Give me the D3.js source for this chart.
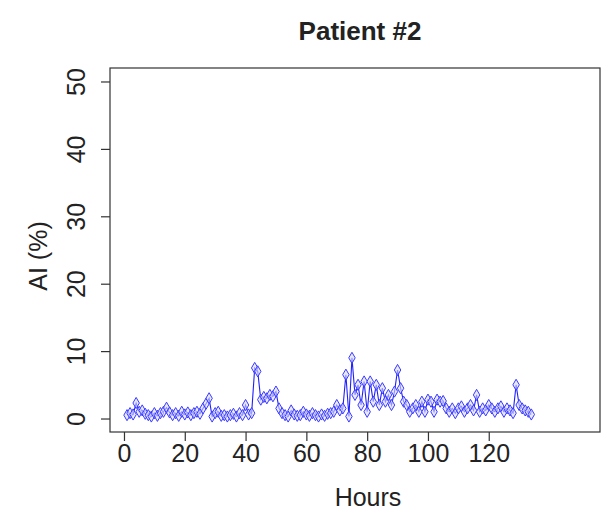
<!DOCTYPE html>
<html><head><meta charset="utf-8">
<script src="https://cdn.jsdelivr.net/npm/d3@7"></script>
<style>body{margin:0;background:#fff}svg{display:block}text{font-family:"Liberation Sans",Arial,sans-serif;fill:#222}</style>
</head><body><svg id="c" width="602" height="520"></svg>
<script>
const title = "Patient #2";
const xLabel = "Hours";
const yLabel = "AI (%)";
const xTicks = [0, 20, 40, 60, 80, 100, 120];
const yTicks = [0, 10, 20, 30, 40, 50];
const hours = d3.range(1, 135);
const values = [
 0.5,0.8,0.6,2.3,1.0,1.2,0.7,0.5,0.3,0.8,
 0.4,0.8,1.0,1.6,0.9,0.5,0.8,0.4,1.0,0.6,
 0.9,0.5,0.8,1.0,0.7,1.5,2.2,3.0,0.3,0.8,
 1.0,0.4,0.5,0.3,0.5,0.7,0.3,0.8,0.5,2.0,
 0.6,0.8,7.5,7.0,2.8,3.2,3.0,3.5,3.3,4.0,
 1.5,0.8,0.5,0.3,1.2,0.6,0.4,0.5,1.0,0.6,
 0.4,0.8,0.5,0.3,0.6,0.4,0.7,0.8,1.0,2.0,
 1.2,1.5,6.5,0.3,9.0,3.5,5.0,2.0,5.5,1.0,
 5.5,2.5,5.0,2.0,4.5,2.5,3.5,2.0,4.0,7.2,
 4.5,2.5,2.0,1.0,1.5,2.0,1.0,2.5,1.0,2.8,
 2.5,1.0,2.8,2.5,2.6,1.5,1.0,1.5,0.8,1.5,
 1.8,1.0,1.5,2.0,1.2,3.5,1.0,1.5,1.2,2.0,
 1.5,1.0,1.5,1.8,1.0,1.5,1.2,0.8,5.0,2.0,
 1.5,1.2,1.0,0.6
];
const data = hours.map((h,i)=>({h, v: values[i]}));

const svg = d3.select("#c");
const L=110, R=600, T=68, B=432;
const x = d3.scaleLinear().domain([-4.6, 156.6]).range([L, R]);
const y = d3.scaleLinear().domain([-2, 52]).range([B, T]);

svg.append("rect").attr("x",L).attr("y",T).attr("width",R-L).attr("height",B-T)
  .attr("fill","none").attr("stroke","#333").attr("stroke-width",1.2);

const xAxis = svg.append("g").attr("transform",`translate(0,${B})`)
  .call(d3.axisBottom(x).tickValues(xTicks).tickSize(9).tickPadding(3));
xAxis.select(".domain").remove();
xAxis.selectAll("line").attr("stroke","#333").attr("stroke-width",1.2);
xAxis.selectAll("text").attr("font-size",25).attr("font-family","Liberation Sans, Arial, sans-serif").attr("fill","#222");

const yAxis = svg.append("g").attr("transform",`translate(${L},0)`)
  .call(d3.axisLeft(y).tickValues(yTicks).tickSize(9).tickPadding(6));
yAxis.select(".domain").remove();
yAxis.selectAll("line").attr("stroke","#333").attr("stroke-width",1.2);
yAxis.selectAll("text").attr("font-size",25).attr("font-family","Liberation Sans, Arial, sans-serif").attr("fill","#222")
  .attr("text-anchor","middle").attr("dy",null).attr("x",null)
  .attr("transform",d=>`translate(-34,0) rotate(-90)`).attr("dominant-baseline","central");

const line = d3.line().x(d=>x(d.h)).y(d=>y(d.v));
svg.append("path").datum(data).attr("d",line).attr("fill","none").attr("stroke","#2020ff").attr("stroke-width",1.1);
svg.append("g").selectAll("path").data(data).join("path")
  .attr("d", d3.symbol(d3.symbolDiamond, 36))
  .attr("transform", d=>`translate(${x(d.h)},${y(d.v)})`)
  .attr("fill","#d8d8ff").attr("fill-opacity",0.6).attr("stroke","#3a3aff").attr("stroke-width",1);

svg.append("text").attr("x",360).attr("y",40).attr("text-anchor","middle")
  .attr("font-size",26).attr("font-weight","bold").text(title);
svg.append("text").attr("x",368).attr("y",506).attr("text-anchor","middle")
  .attr("font-size",25).text(xLabel);
svg.append("text").attr("transform",`translate(47,256) rotate(-90)`).attr("text-anchor","middle")
  .attr("font-size",25).text(yLabel);
</script></body></html>
